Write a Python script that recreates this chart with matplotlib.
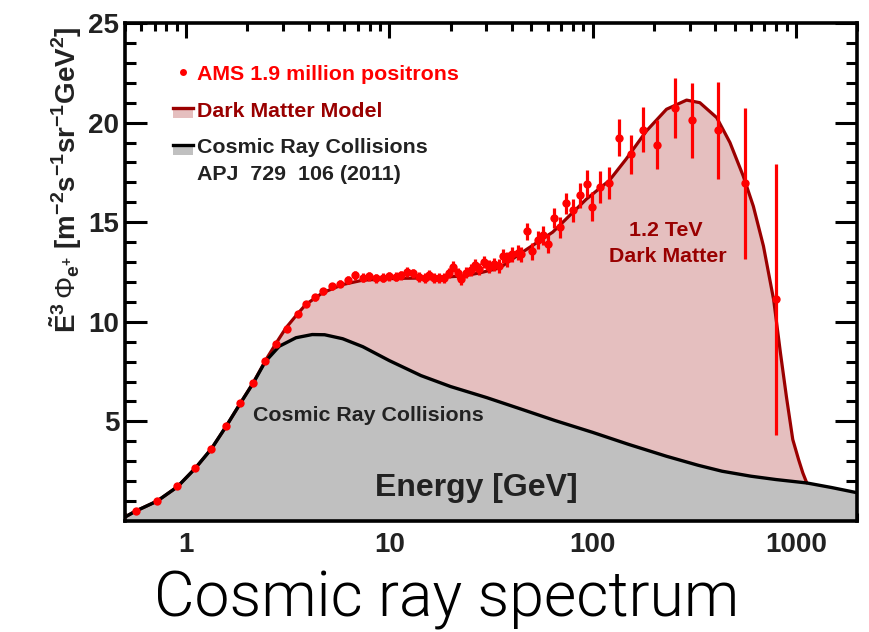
import matplotlib
matplotlib.use("Agg")
import matplotlib.pyplot as plt
from matplotlib import font_manager as fm
from matplotlib.lines import Line2D
from matplotlib.patches import Rectangle
from matplotlib.ticker import FixedLocator, NullFormatter, LogLocator

# ---------------- data ----------------
ams_energy = [0.565, 0.72, 0.906, 1.107, 1.33, 1.57, 1.84, 2.14, 2.45, 2.78,
              3.15, 3.54, 3.89, 4.32, 4.73, 5.2, 5.71, 6.23, 6.81, 7.4,
              7.97, 8.6, 9.27, 10.0, 10.8, 11.4, 12.2, 13.0, 14.0, 14.9,
              15.7, 16.6, 17.6, 18.6, 19.7, 20.5, 21.7, 22.5, 23.8, 25.2,
              26.5, 27.7, 29.3, 31.0, 32.8, 34.5, 36.3, 38.1, 40.3, 42.7,
              44.5, 47.4, 50.6, 53.6, 57.1, 60.5, 64.5, 69.3, 74.2, 80.0,
              86.4, 93.9, 99.5, 108.7, 121, 135, 154, 176, 207, 253,
              307, 414, 564, 803]
ams_flux = [0.52, 1.02, 1.74, 2.66, 3.63, 4.75, 5.9, 6.93, 8.05, 8.9,
            9.66, 10.37, 10.87, 11.22, 11.54, 11.79, 11.92, 12.09, 12.33, 12.21,
            12.29, 12.18, 12.21, 12.29, 12.26, 12.33, 12.49, 12.43, 12.26, 12.21,
            12.33, 12.21, 12.21, 12.21, 12.46, 12.76, 12.43, 12.13, 12.46, 12.59,
            12.83, 12.63, 12.99, 12.76, 12.88, 12.79, 13.3, 13.13, 13.38, 13.47,
            13.38, 14.55, 13.55, 14.1, 14.34, 13.92, 15.22, 14.75, 15.94, 15.6,
            16.35, 16.93, 15.78, 16.76, 16.95, 19.25, 18.4, 19.63, 18.9, 20.75,
            20.12, 19.61, 16.95, 11.12]
ams_err = [0.05, 0.05, 0.05, 0.06, 0.06, 0.07, 0.08, 0.08, 0.09, 0.1,
           0.12, 0.14, 0.15, 0.16, 0.17, 0.18, 0.19, 0.2, 0.22, 0.22,
           0.22, 0.22, 0.22, 0.23, 0.23, 0.23, 0.24, 0.24, 0.24, 0.24,
           0.25, 0.25, 0.25, 0.26, 0.26, 0.27, 0.27, 0.28, 0.28, 0.29,
           0.3, 0.3, 0.31, 0.32, 0.33, 0.34, 0.35, 0.36, 0.37, 0.38,
           0.4, 0.42, 0.43, 0.45, 0.47, 0.48, 0.5, 0.52, 0.55, 0.58,
           0.62, 0.69, 0.74, 0.8, 0.8, 0.92, 1.0, 1.13, 1.25, 1.5,
           1.88, 2.43, 3.8, 6.8]

model_energy = [0.5, 0.565, 0.72, 0.906, 1.107, 1.33, 1.57, 1.84, 2.14, 2.47,
                2.78, 3.1, 3.5, 3.88, 4.7, 5.89, 7.4, 10.8, 15.7, 22.9,
                27.7, 34.8, 45.2, 63.6, 93, 121, 146, 184, 231, 290,
                337, 408, 474, 551, 618, 693, 778, 840, 900, 966, 1032,
                1083, 1132]
model_flux = [0.2, 0.5, 1.0, 1.72, 2.64, 3.62, 4.74, 5.88, 6.95, 8.1,
              8.95, 9.7, 10.35, 10.87, 11.46, 11.87, 12.09, 12.18, 12.2, 12.3,
              12.45, 12.7, 13.5, 14.5, 16.15, 17.1, 18.16, 19.58, 20.67, 21.13,
              21.0, 20.25, 19.0, 17.32, 15.8, 13.8, 11.1, 8.44, 6.2, 4.09, 3.08,
              2.41, 1.91]

bkg_energy = [0.5, 0.565, 0.72, 0.906, 1.107, 1.33, 1.57, 1.84, 2.14, 2.45,
              2.87, 3.47, 4.17, 4.8, 5.89, 7.4, 10.0, 14.3, 20,
              30, 45, 65, 100, 150, 231, 330, 433, 600, 800,
              1132, 1500, 2000]
bkg_flux = [0.2, 0.5, 1.0, 1.72, 2.64, 3.62, 4.74, 5.88, 6.93, 8.0,
            8.77, 9.2, 9.36, 9.35, 9.15, 8.75, 8.05, 7.3, 6.75,
            6.2, 5.6, 5.05, 4.45, 3.85, 3.25, 2.8, 2.5, 2.25, 2.08,
            1.91, 1.68, 1.42]

x_ticks = [1, 10, 100, 1000]
x_tick_labels = ["1", "10", "100", "1000"]
y_ticks = [5, 10, 15, 20, 25]
y_tick_labels = ["5", "10", "15", "20", "25"]

# ---------------- fonts ----------------
def font_weight_value(w):
    if isinstance(w, str):
        return {"ultralight": 200, "light": 300, "normal": 400, "regular": 400,
                "book": 400, "medium": 500}.get(w.lower(), 400)
    return int(w)

def has_font(name, maxw=None):
    for f in fm.fontManager.ttflist:
        if f.name == name:
            if maxw is None or font_weight_value(f.weight) <= maxw:
                return True
    return False

title_family, title_weight = "Liberation Sans", "normal"
for cand in ["Roboto", "Lato", "Open Sans", "Inter", "Noto Sans"]:
    if has_font(cand, 300):
        title_family, title_weight = cand, 300
        break

BOLD = "Liberation Sans"
plt.rcParams["font.family"] = [BOLD, "DejaVu Sans"]
plt.rcParams["mathtext.fontset"] = "custom"
plt.rcParams["mathtext.rm"] = "Liberation Sans"
plt.rcParams["mathtext.bf"] = "Liberation Sans:bold"
plt.rcParams["mathtext.it"] = "Liberation Sans:italic"

W, H = 869, 632
fig = plt.figure(figsize=(W / 100, H / 100), dpi=100)

def fx(x):
    return x / W

def fy(y):
    return 1 - y / H

ax = fig.add_axes([fx(125), fy(521), (857 - 125) / W, (521 - 23) / H])
ax.set_xscale("log")
ax.set_xlim(0.5, 2000)
ax.set_ylim(0, 25)

PINK = "#e5bfbf"
GRAY = "#c0c0c0"
DRED = "#9b0000"
RED = "#ff0000"

ax.fill_between(model_energy, model_flux, 0, color=PINK, lw=0, zorder=1)
ax.fill_between(bkg_energy, bkg_flux, 0, color=GRAY, lw=0, zorder=2)
ax.plot(model_energy, model_flux, color=DRED, lw=2.3, zorder=3, solid_capstyle="round")
ax.plot(bkg_energy, bkg_flux, color="black", lw=2.4, zorder=4)
ax.errorbar(ams_energy, ams_flux, yerr=ams_err, fmt="o", color=RED, ms=6,
            elinewidth=2.3, capsize=0, zorder=5, mew=0)

# ticks
ax.xaxis.set_major_locator(FixedLocator(x_ticks))
ax.set_xticklabels(x_tick_labels)
ax.xaxis.set_minor_locator(LogLocator(base=10, subs=[2, 3, 4, 5, 6, 7, 8, 9]))
ax.xaxis.set_minor_formatter(NullFormatter())
ax.yaxis.set_major_locator(FixedLocator(y_ticks))
ax.set_yticklabels(y_tick_labels)
ax.yaxis.set_minor_locator(FixedLocator([v for v in range(1, 25) if v % 5]))

ax.tick_params(axis="x", which="major", direction="in", length=11, width=2.2,
               top=True, bottom=True, pad=8, labelsize=20)
ax.tick_params(axis="x", which="minor", direction="in", length=6, width=2.2,
               top=True, bottom=True)
ax.tick_params(axis="y", which="major", direction="in", length=16, width=2.2,
               left=True, right=True, pad=4, labelsize=20)
ax.tick_params(axis="y", which="minor", direction="in", length=8, width=2.2,
               left=True, right=True)
for lab in ax.get_xticklabels() + ax.get_yticklabels():
    lab.set_fontweight("bold")
    lab.set_color("#222222")
for s in ax.spines.values():
    s.set_linewidth(2.6)

# in-plot texts
TXT = "#222222"
fig.text(fx(666), fy(236.5), "1.2 TeV", ha="center", va="baseline",
         color="#990000", fontsize=15.4, fontweight="bold")
fig.text(fx(668), fy(261.5), "Dark Matter", ha="center", va="baseline",
         color="#990000", fontsize=15.4, fontweight="bold")
fig.text(fx(253), fy(421), "Cosmic Ray Collisions", ha="left", va="baseline",
         color=TXT, fontsize=15.4, fontweight="bold", zorder=10)
fig.text(fx(476), fy(496), "Energy [GeV]", ha="center", va="baseline",
         color=TXT, fontsize=23, fontweight="bold", zorder=10)

# legend (drawn by hand)
fig.add_artist(Line2D([fx(183)], [fy(72)], marker="o", color=RED, ms=5, mew=0,
                      transform=fig.transFigure))
fig.text(fx(197), fy(80), "AMS 1.9 million positrons", ha="left", va="baseline",
         color=RED, fontsize=15.4, fontweight="bold")
fig.add_artist(Rectangle((fx(173), fy(118)), fx(20), (118 - 108) / H,
                         transform=fig.transFigure, color=PINK, lw=0))
fig.add_artist(Line2D([fx(173), fx(193)], [fy(108), fy(108)], color=DRED, lw=2.4,
                      transform=fig.transFigure))
fig.text(fx(197), fy(117), "Dark Matter Model", ha="left", va="baseline",
         color="#990000", fontsize=15.4, fontweight="bold")
fig.add_artist(Rectangle((fx(173), fy(155)), fx(20), (155 - 145) / H,
                         transform=fig.transFigure, color=GRAY, lw=0))
fig.add_artist(Line2D([fx(173), fx(193)], [fy(145), fy(145)], color="black", lw=2.4,
                      transform=fig.transFigure))
fig.text(fx(197), fy(153), "Cosmic Ray Collisions", ha="left", va="baseline",
         color=TXT, fontsize=15.4, fontweight="bold")
fig.text(fx(197), fy(180), "APJ  729  106 (2011)", ha="left", va="baseline",
         color=TXT, fontsize=15.4, fontweight="bold")

# y label
ylab = (r"$\mathbf{\tilde{E}}^{\mathbf{3}}\,\Phi_{\mathbf{e^{+}}}\ "
        r"\mathbf{[m^{-2}s^{-1}sr^{-1}GeV^{2}]}$")
fig.text(fx(66), fy(180), ylab, rotation=90, ha="center", va="center",
         color=TXT, fontsize=20)

# big caption
fig.text(fx(447), fy(616), "Cosmic ray spectrum", ha="center", va="baseline",
         color="black", fontsize=45, family=[title_family, "DejaVu Sans"],
         fontweight=title_weight)

fig.savefig("out.png", dpi=100)
